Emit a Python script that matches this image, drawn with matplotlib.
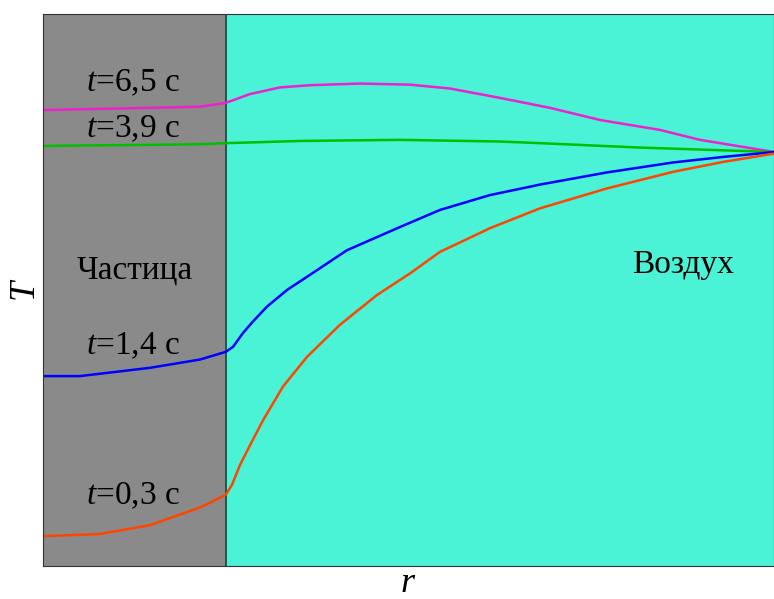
import numpy as np
import matplotlib
matplotlib.use('Agg')
import matplotlib.pyplot as plt

plt.rcParams['font.family'] = ['Liberation Serif', 'DejaVu Serif']
plt.rcParams['mathtext.fontset'] = 'custom'
plt.rcParams['mathtext.rm'] = 'Liberation Serif'
plt.rcParams['mathtext.it'] = 'Liberation Serif:italic'

# radius (particle surface at r = 1), temperature in arbitrary units
r_m = [0.0, 0.585, 0.859, 1.0, 1.133, 1.297, 1.461, 1.735, 2.008, 2.227, 2.501,
       2.774, 3.048, 3.376, 3.595, 4.0]
T_m = [82.6, 83.0, 83.2, 83.9, 85.5, 86.7, 87.1, 87.4, 87.2, 86.5, 84.8,
       83.0, 80.8, 79.0, 77.2, 75.0]

r_g = [0.0, 0.859, 1.0, 1.406, 1.953, 2.501, 2.720, 3.267, 4.0]
T_g = [76.1, 76.4, 76.6, 77.0, 77.2, 76.9, 76.6, 75.8, 75.0]

r_b = [0.0, 0.202, 0.585, 0.859, 1.0, 1.040, 1.094, 1.149, 1.226, 1.335, 1.477,
       1.663, 1.953, 2.172, 2.446, 2.720, 3.086, 3.447, 3.721, 4.0]
T_b = [34.4, 34.4, 35.9, 37.4, 38.8, 39.7, 42.2, 44.3, 47.0, 50.0, 53.1,
       57.2, 61.4, 64.5, 67.2, 69.1, 71.3, 73.1, 74.1, 75.0]

r_o = [0.0, 0.312, 0.585, 0.859, 1.0, 1.034, 1.078, 1.133, 1.204, 1.313, 1.445,
       1.625, 1.828, 2.008, 2.172, 2.446, 2.720, 3.086, 3.447, 3.721, 4.0]
T_o = [5.4, 5.8, 7.4, 10.6, 12.9, 14.7, 18.3, 21.9, 26.4, 32.5, 37.9,
       43.7, 49.1, 53.0, 56.9, 61.2, 64.8, 68.4, 71.4, 73.2, 74.7]

labels = ['$t$=6,5 c', '$t$=3,9 c', '$t$=1,4 c', '$t$=0,3 c']
label_T = [87.5, 79.2, 39.9, 12.7]

fig = plt.figure(figsize=(7.74, 5.99), dpi=100)
ax = fig.add_axes([43 / 774, 33 / 599, 731 / 774, 552 / 599])

ax.axvspan(0, 1, color='#8a8a8a', zorder=0)
ax.axvspan(1, 4, color='#4af2d6', zorder=0)
ax.axvline(1, color='#2a3a38', lw=1.2, zorder=1)

ax.plot(r_m, T_m, color='#ee22cc', lw=1.8)
ax.plot(r_g, T_g, color='#00c000', lw=1.8)
ax.plot(r_b, T_b, color='#0000ff', lw=1.8)
ax.plot(r_o, T_o, color='#ff4500', lw=1.8)

for lab, ty in zip(labels, label_T):
    ax.text(0.49, ty, lab, ha='center', va='center', fontsize=24)

ax.text(0.5, 53.5, 'Частица', ha='center', va='center', fontsize=24)
ax.text(3.5, 54.5, 'Воздух', ha='center', va='center', fontsize=24)

ax.set_xlim(0, 4)
ax.set_ylim(0, 100)
ax.set_xticks([])
ax.set_yticks([])
for s in ax.spines.values():
    s.set_color('#333333')
ax.set_xlabel('$r$', fontsize=26, labelpad=1)
ax.set_ylabel('$T$', fontsize=26, labelpad=0)

fig.savefig('out.png', dpi=100)
